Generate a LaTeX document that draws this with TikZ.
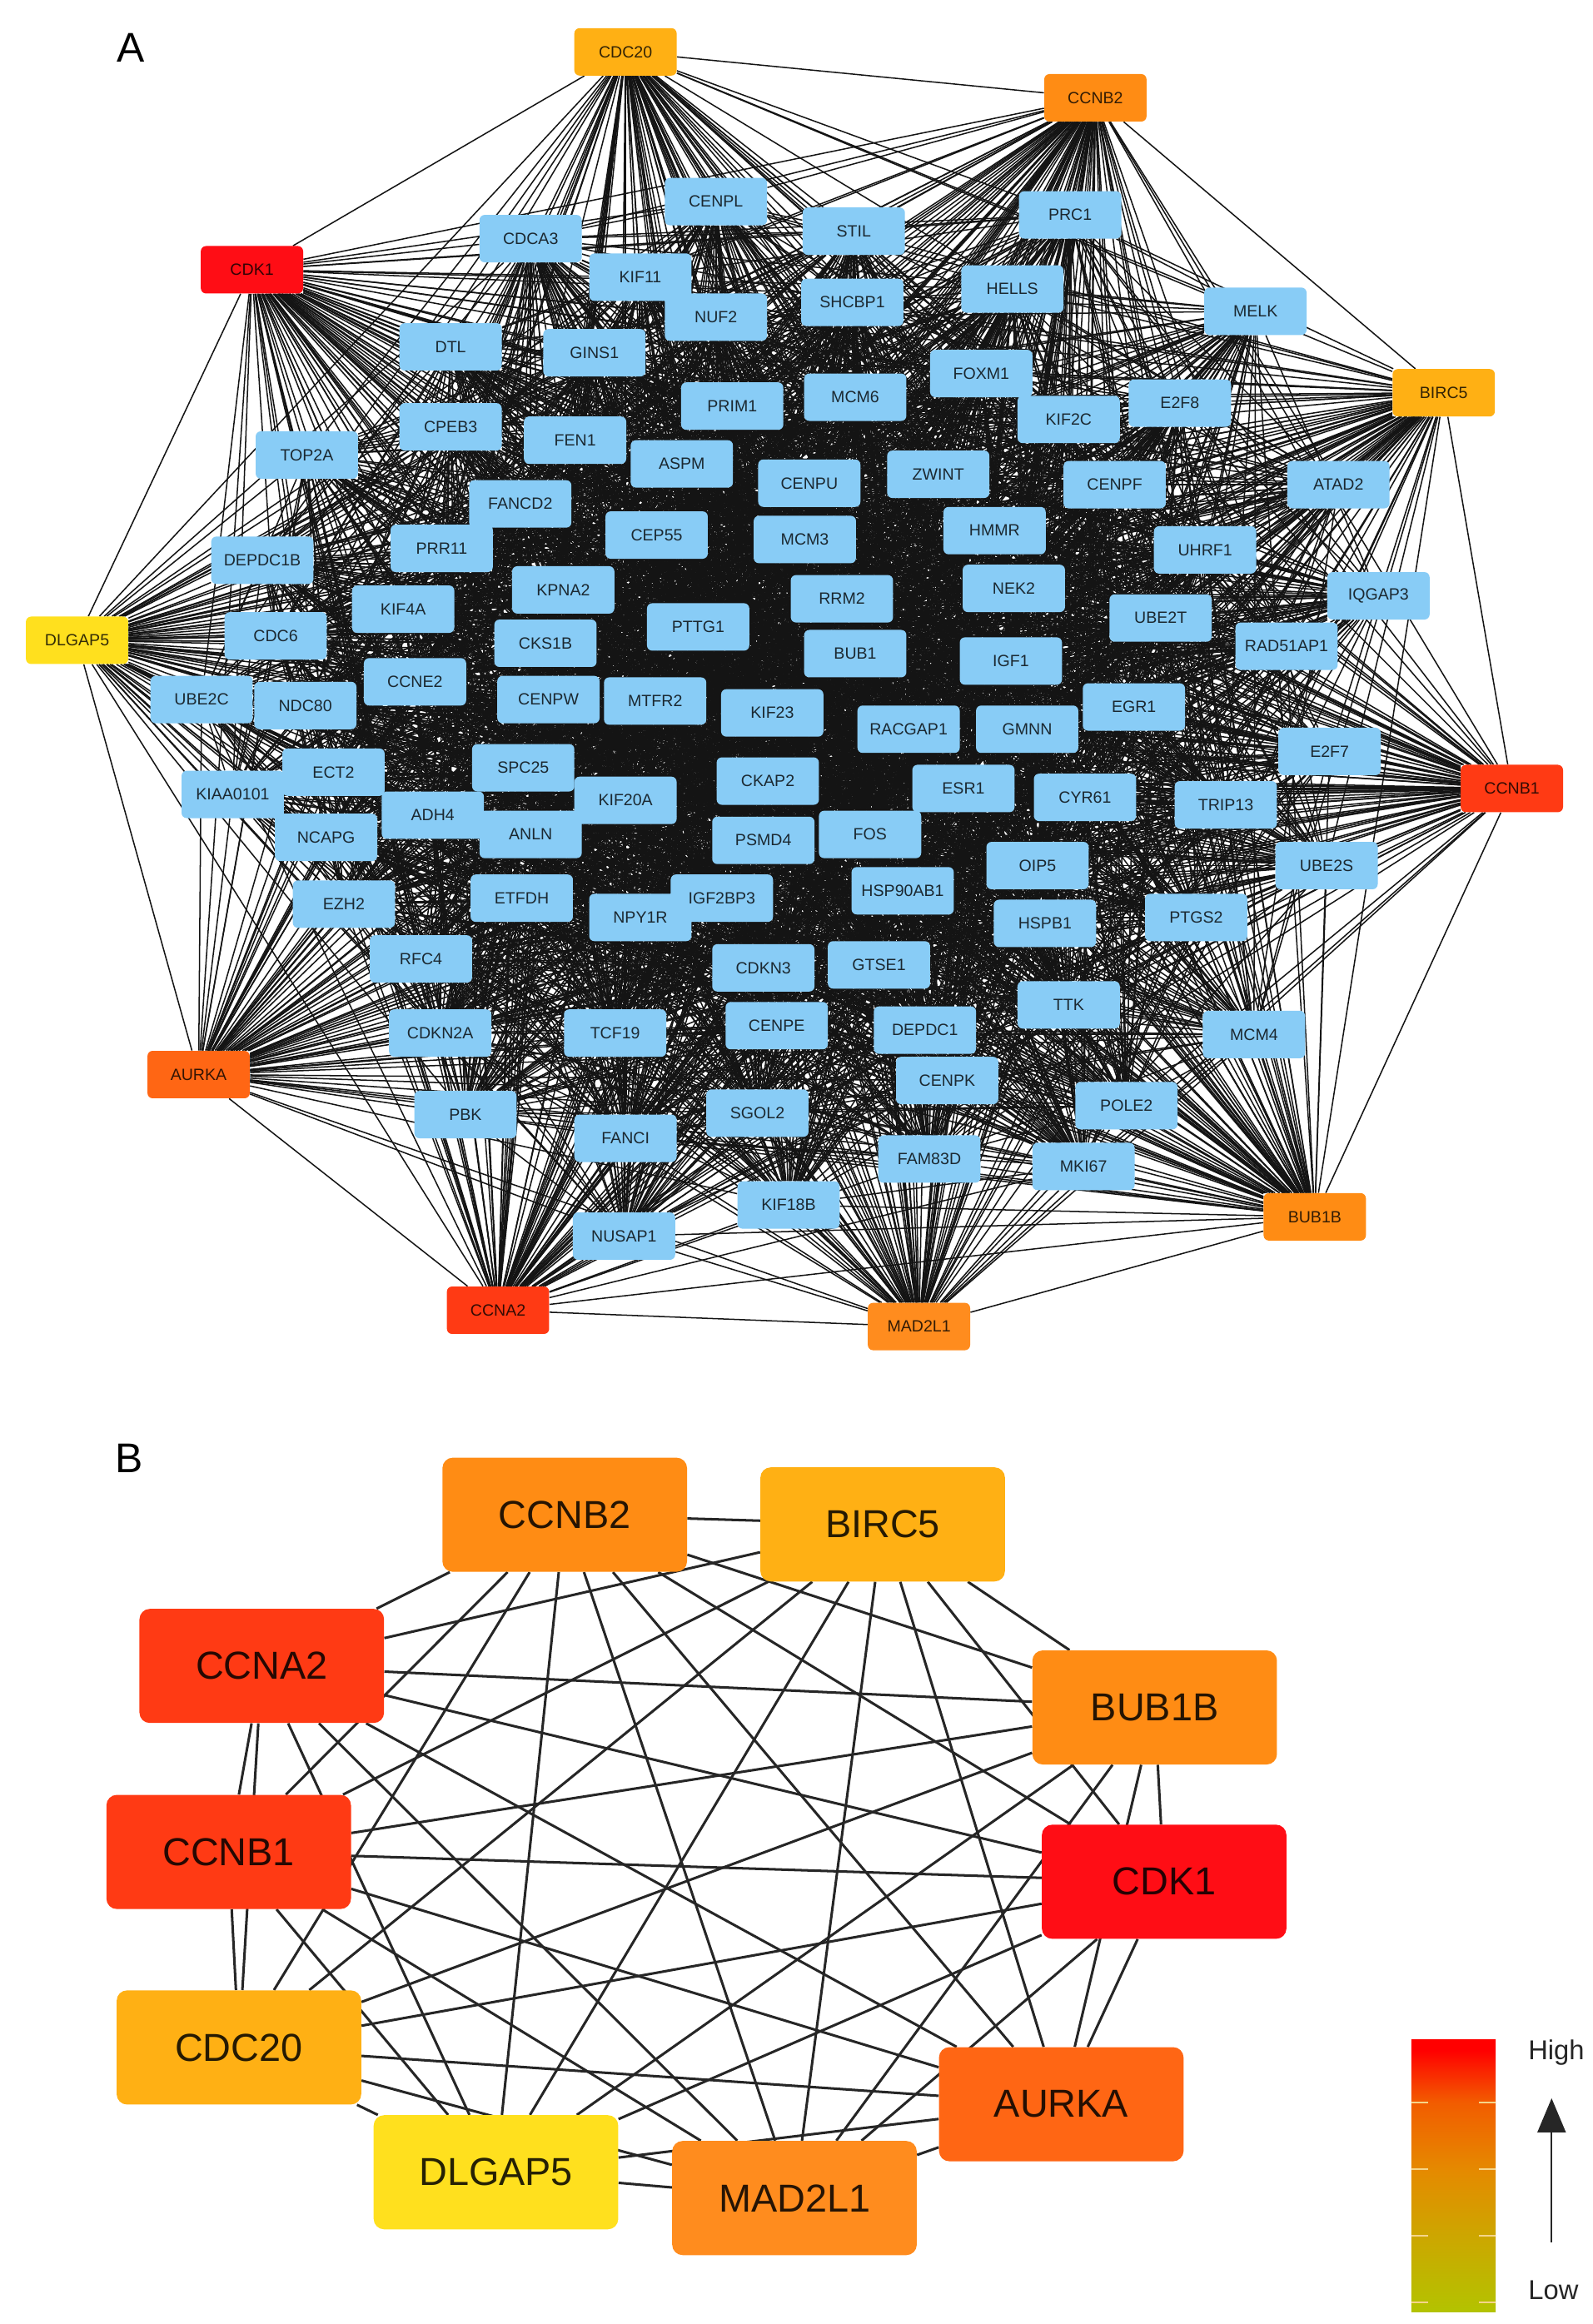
\documentclass[tikz,border=0pt]{standalone}
\usepackage{fontspec}
\setmainfont{Liberation Sans}
\usetikzlibrary{backgrounds,arrows.meta}
\definecolor{cCDK}{HTML}{FF0D15}
\definecolor{cCCNA}{HTML}{FF3A14}
\definecolor{cAUR}{HTML}{FF6614}
\definecolor{cBUB}{HTML}{FF8C14}
\definecolor{cMAD}{HTML}{FF8C1E}
\definecolor{cCDC}{HTML}{FFB014}
\definecolor{cDLG}{HTML}{FFE01E}
\definecolor{cBlue}{HTML}{88CCF6}
\definecolor{cTick}{HTML}{F5D58A}
\definecolor{bar1}{HTML}{B3C300}
\definecolor{bar2}{HTML}{CDA600}
\definecolor{bar3}{HTML}{E58A00}
\definecolor{bar4}{HTML}{F25C00}
\pgfdeclareverticalshading{cbarshade}{100bp}{
 color(0bp)=(bar1);
 color(25bp)=(bar1);
 color(39bp)=(bar2);
 color(51bp)=(bar3);
 color(63.5bp)=(bar4);
 color(73bp)=(red);
 color(100bp)=(red)}
\tikzset{
 smallbox/.style={rectangle,rounded corners=3.5pt,minimum width=69pt,minimum height=32pt,inner sep=0pt,
   font=\fontsize{11}{12}\selectfont,text=black,text opacity=.8},
 bluebox/.style={smallbox,fill=cBlue},
 bigbox/.style={rectangle,rounded corners=7pt,minimum width=165pt,minimum height=77pt,inner sep=0pt,
   font=\fontsize{26.3}{30}\selectfont,text=black,text opacity=.85},
 edgeA/.style={line width=.85pt,black!92},
 edgeB/.style={line width=1.7pt,black!85},
 panel/.style={font=\fontsize{28}{30}\selectfont,inner sep=0pt},
 scale label/.style={font=\fontsize{18.4}{22}\selectfont,text=black!85,inner sep=0pt},
}
\begin{document}
\begin{tikzpicture}[x=1pt,y=-1pt]
\path[use as bounding box] (0,0) rectangle (1074.7,1568);
% Panel A: hubs
\foreach \nm/\x/\y/\c [count=\i] in {
 CDC20/422/35/cCDC,CCNB2/739/66/cBUB,BIRC5/974/265/cCDC,CCNB1/1020/532/cCCNA,BUB1B/887/821/cBUB,
 MAD2L1/620/895/cMAD,CCNA2/336/884/cCCNA,AURKA/134/725/cAUR,DLGAP5/52/432/cDLG,CDK1/170/182/cCDK}
 {\node[smallbox,fill=\c,name=h\i] at (\x,\y) {\nm};}
% Panel A: blue nodes
\foreach \nm/\x/\y [count=\i] in {
CENPL/483/136,STIL/576/156,PRC1/722/145,CDCA3/358/161,KIF11/432/187,NUF2/483/214,SHCBP1/575/204,HELLS/683/195,
MELK/847/210,DTL/304/234,GINS1/401/238,PRIM1/494/274,MCM6/577/268,FOXM1/662/252,KIF2C/721/283,E2F8/796/272,
CPEB3/304/288,FEN1/388/297,TOP2A/207/307,ASPM/460/313,CENPU/546/326,ZWINT/633/320,CENPF/752/327,ATAD2/903/327,
FANCD2/351/340,CEP55/443/361,MCM3/543/364,HMMR/671/358,PRR11/298/370,DEPDC1B/177/378,UHRF1/813/371,KPNA2/380/398,
RRM2/568/404,NEK2/684/397,IQGAP3/930/402,KIF4A/272/411,UBE2T/783/417,CDC6/186/429,PTTG1/471/423,CKS1B/368/434,
RAD51AP1/868/436,BUB1/577/441,IGF1/682/446,CCNE2/280/460,UBE2C/136/472,NDC80/206/476,CENPW/370/472,MTFR2/442/473,
KIF23/521/481,EGR1/765/477,RACGAP1/613/492,GMNN/693/492,E2F7/897/507,ECT2/225/521,SPC25/353/518,KIAA0101/157/536,
CKAP2/518/527,ESR1/650/532,CYR61/732/538,TRIP13/827/543,KIF20A/422/540,ADH4/292/550,ANLN/358/563,NCAPG/220/565,
PSMD4/515/567,FOS/587/563,UBE2S/895/584,OIP5/700/584,HSP90AB1/609/601,EZH2/232/610,ETFDH/352/606,NPY1R/432/619,
IGF2BP3/487/606,HSPB1/705/623,PTGS2/807/619,RFC4/284/647,GTSE1/593/651,CDKN3/515/653,TTK/721/678,CDKN2A/297/697,
TCF19/415/697,CENPE/524/692,DEPDC1/624/695,MCM4/846/698,CENPK/639/729,POLE2/760/746,PBK/314/752,SGOL2/511/751,
FANCI/422/768,FAM83D/627/782,MKI67/731/787,KIF18B/532/813,NUSAP1/421/834}
 {\node[bluebox,name=b\i] at (\x,\y) {\nm};
  \pgfmathtruncatemacro{\rad}{veclen(\x-540,\y-460)}
  \expandafter\xdef\csname rad\i\endcsname{\rad}}
% Panel B
\foreach \nm/\x/\y/\c [count=\i] in {
 CCNB2/381/1022/cBUB,BIRC5/595.5/1028.5/cCDC,BUB1B/779/1152/cBUB,CDK1/785.4/1269.6/cCDK,AURKA/716/1419.7/cAUR,
 MAD2L1/536/1483/cMAD,DLGAP5/334.6/1465.6/cDLG,CDC20/161.2/1381.4/cCDC,CCNB1/154.3/1249.5/cCCNA,CCNA2/176.6/1124/cCCNA}
 {\node[bigbox,fill=\c,name=k\i] at (\x,\y) {\nm};}
\node[panel] (labA) at (88,32) {A};
\node[panel] (labB) at (87,984) {B};
% scale
\node[scale label] (high) at (1050,1385) {High};
\node[scale label] (low) at (1048,1545) {Low};
\coordinate (arrS) at (1046.8,1513);
\coordinate (arrE) at (1046.8,1415.7);
\draw[line width=1.3pt,black!85,-{Triangle[width=19pt,length=23pt]}] (arrS) -- (arrE);
\shade[shading=cbarshade] (952.2,1376) rectangle (1009,1559.6);
\foreach \y in {1418.5,1463.5,1508.4,1553.4}{
 \draw[cTick,line width=1pt] (952.2,\y) -- (963.5,\y);
 \draw[cTick,line width=1pt] (997.7,\y) -- (1009,\y);
}
\begin{pgfonlayer}{background}
\fill[white] (0,0) rectangle (1074.7,1568);
\pgfmathsetseed{4242}
% hub-hub
\foreach \i in {1,...,10}{\foreach \j in {1,...,10}{\ifnum\j>\i \draw[edgeA] (h\i) -- (h\j);\fi}}
% hub-blue
\foreach \i in {1,...,10}{\foreach \j in {1,...,93}{
  \pgfmathrandominteger{\r}{0}{99}\ifnum\r<75 \draw[edgeA] (h\i) -- (b\j);\fi}}
% blue-blue: denser towards the middle of the panel
\foreach \i in {1,...,93}{\foreach \j in {1,...,93}{\ifnum\j>\i
  \pgfmathrandominteger{\r}{0}{99}
  \ifnum\r<\numexpr 90-(\csname rad\i\endcsname+\csname rad\j\endcsname)*6/100\relax
   \draw[edgeA] (b\i) -- (b\j);\fi\fi}}
% panel B
\foreach \i in {1,...,10}{\foreach \j in {1,...,10}{\ifnum\j>\i \draw[edgeB] (k\i) -- (k\j);\fi}}
\end{pgfonlayer}
\end{tikzpicture}
\end{document}
